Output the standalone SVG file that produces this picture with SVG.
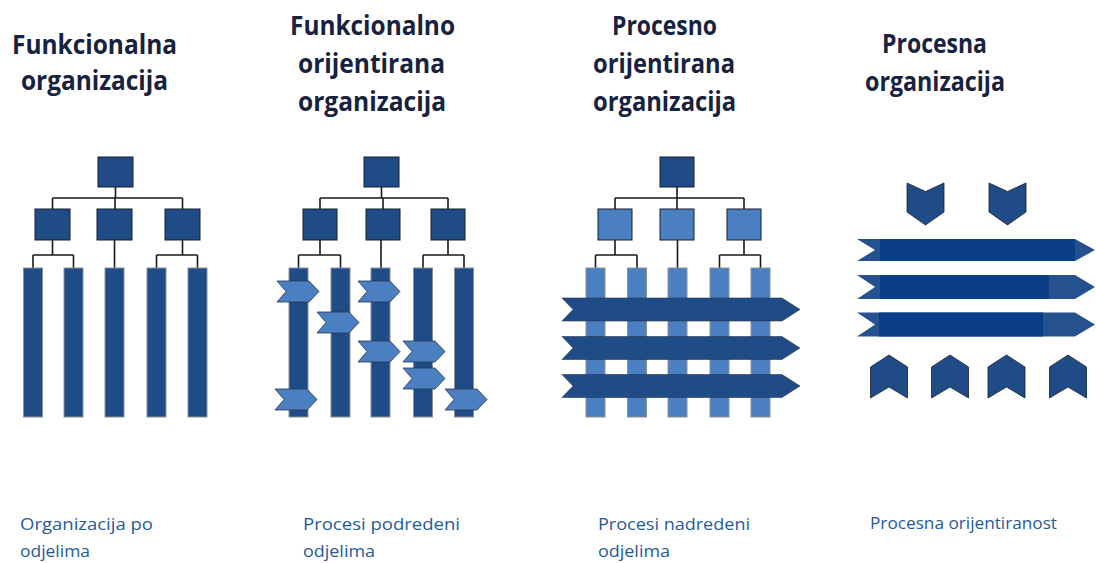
<svg xmlns="http://www.w3.org/2000/svg" width="1096" height="563" viewBox="0 0 1096 563">
<defs>
<style>
.title{font-family:"Open Sans","Liberation Sans",sans-serif;font-weight:700;font-size:26px;fill:#17223f;text-anchor:middle}
.cap{font-family:"Open Sans","Liberation Sans",sans-serif;font-size:17px;fill:#1f5a9e}
.box{fill:#1f4b87;stroke:#1a1f2e;stroke-width:1}
.lbox{fill:#4a7fc1;stroke:#1a1f2e;stroke-width:1}
.col{fill:#1f4b87;stroke:#8a8f99;stroke-width:1}
.lcol{fill:#4a7fc1;stroke:#8a8f99;stroke-width:1}
.chev{fill:#4a7fc1;stroke:#2a3550;stroke-width:0.8}
.arr{fill:#1f4b87;stroke:#2a3550;stroke-width:0.6}
.dchev{fill:#1f4b87;stroke:#1a1f2e;stroke-width:0.8}
.bar{fill:#25528f}
.barin{fill:#093e87}
.conn{fill:none;stroke:#1a1a1a;stroke-width:1.6}
</style>
<path id="chv" d="M0,0 H32 L42,10.5 L32,21 H0 L9,10.5 Z"/>
<path id="dwn" d="M0,0 L18.5,8.5 L37,0 V29 L18.5,42 L0,29 Z"/>
<path id="up" d="M0,12 L18.5,0 L37,12 V43 L18.5,32 L0,43 Z"/>
</defs>
<rect width="1096" height="563" fill="#ffffff"/>

<!-- Titles -->
<g id="title1">
<text class="title" x="94.5" y="54" textLength="165" lengthAdjust="spacingAndGlyphs">Funkcionalna</text>
<text class="title" x="94.5" y="90" textLength="147" lengthAdjust="spacingAndGlyphs">organizacija</text>
</g>
<g id="title2">
<text class="title" x="372.5" y="35" textLength="165" lengthAdjust="spacingAndGlyphs">Funkcionalno</text>
<text class="title" x="371.5" y="73" textLength="147" lengthAdjust="spacingAndGlyphs">orijentirana</text>
<text class="title" x="372" y="111" textLength="148" lengthAdjust="spacingAndGlyphs">organizacija</text>
</g>
<g id="title3">
<text class="title" x="664.5" y="35" textLength="105" lengthAdjust="spacingAndGlyphs">Procesno</text>
<text class="title" x="664" y="73" textLength="142" lengthAdjust="spacingAndGlyphs">orijentirana</text>
<text class="title" x="664.5" y="111" textLength="143" lengthAdjust="spacingAndGlyphs">organizacija</text>
</g>
<g id="title4">
<text class="title" x="934.5" y="53" textLength="105" lengthAdjust="spacingAndGlyphs">Procesna</text>
<text class="title" x="935" y="91" textLength="140" lengthAdjust="spacingAndGlyphs">organizacija</text>
</g>

<!-- Connectors -->
<g id="connectors" class="conn">
<path d="M115.5,187 V198 M52.5,198 H182.5 M52.5,198 V209 M115,198 V209 M182.5,198 V209"/>
<path d="M52.5,240 V255 M33,255 H73.5 M33,255 V268 M73.5,255 V268 M114.5,240 V268 M182.5,240 V255 M156.5,255 H197.5 M156.5,255 V268 M197.5,255 V268"/>
<path d="M381.5,187 V198 M320,198 H448 M320,198 V209 M383,198 V209 M448,198 V209"/>
<path d="M320,240 V255 M298.5,255 H340.5 M298.5,255 V268 M340.5,255 V268 M381,240 V268 M448,240 V255 M423,255 H464 M423,255 V268 M464,255 V268"/>
<path d="M677,187 V198 M615,198 H744 M615,198 V209 M677,198 V209 M744,198 V209"/>
<path d="M615,240 V255 M595.5,255 H637 M595.5,255 V268 M637,255 V268 M677.5,240 V268 M744,240 V255 M719.5,255 H760.5 M719.5,255 V268 M760.5,255 V268"/>
</g>

<!-- Panel 1 -->
<g id="p1-top"><rect class="box" x="98" y="157" width="35" height="30"/></g>
<g id="p1-dept1"><rect class="box" x="35" y="209" width="35" height="31"/></g>
<g id="p1-dept2"><rect class="box" x="97" y="209" width="35" height="31"/></g>
<g id="p1-dept3"><rect class="box" x="165" y="209" width="35" height="31"/></g>
<g id="p1-cols">
<rect class="col" x="23.5" y="268" width="19" height="149"/>
<rect class="col" x="64" y="268" width="19" height="149"/>
<rect class="col" x="105" y="268" width="19" height="149"/>
<rect class="col" x="147" y="268" width="19" height="149"/>
<rect class="col" x="188" y="268" width="19" height="149"/>
</g>

<!-- Panel 2 -->
<g id="p2-top"><rect class="box" x="364" y="157" width="35" height="30"/></g>
<g id="p2-dept1"><rect class="box" x="303" y="209" width="34" height="31"/></g>
<g id="p2-dept2"><rect class="box" x="366" y="209" width="34" height="31"/></g>
<g id="p2-dept3"><rect class="box" x="431" y="209" width="34" height="31"/></g>
<g id="p2-cols">
<rect class="col" x="289" y="268" width="19" height="149"/>
<rect class="col" x="331" y="268" width="19" height="149"/>
<rect class="col" x="371" y="268" width="19" height="149"/>
<rect class="col" x="413.5" y="268" width="19" height="149"/>
<rect class="col" x="454.5" y="268" width="19" height="149"/>
</g>
<g id="p2-processes">
<use href="#chv" class="chev" x="277" y="281"/>
<use href="#chv" class="chev" x="317" y="312"/>
<use href="#chv" class="chev" x="358" y="281"/>
<use href="#chv" class="chev" x="358" y="341"/>
<use href="#chv" class="chev" x="403" y="341"/>
<use href="#chv" class="chev" x="403" y="368"/>
<use href="#chv" class="chev" x="275" y="389"/>
<use href="#chv" class="chev" x="445" y="389"/>
</g>

<!-- Panel 3 -->
<g id="p3-top"><rect class="box" x="660" y="157" width="34" height="30"/></g>
<g id="p3-dept1"><rect class="lbox" x="598" y="209" width="34" height="31"/></g>
<g id="p3-dept2"><rect class="lbox" x="660" y="209" width="34" height="31"/></g>
<g id="p3-dept3"><rect class="lbox" x="727" y="209" width="34" height="31"/></g>
<g id="p3-cols">
<rect class="lcol" x="586" y="268" width="19" height="149"/>
<rect class="lcol" x="627.5" y="268" width="19" height="149"/>
<rect class="lcol" x="668" y="268" width="19" height="149"/>
<rect class="lcol" x="710" y="268" width="19" height="149"/>
<rect class="lcol" x="751" y="268" width="19" height="149"/>
</g>
<g id="p3-processes">
<path class="arr" d="M562,298 H782 L800,309.5 L782,321 H562 L573,309.5 Z"/>
<path class="arr" d="M562,336.5 H782 L800,348 L782,359.5 H562 L573,348 Z"/>
<path class="arr" d="M562,374.5 H782 L800,386 L782,397.5 H562 L573,386 Z"/>
</g>

<!-- Panel 4 -->
<g id="p4-top">
<use href="#dwn" class="dchev" x="907" y="183"/>
<use href="#dwn" class="dchev" x="989" y="183"/>
</g>
<g id="p4-process1">
<path class="bar" d="M857,239 H1075 L1095,250 L1075,261 H857 L875,250 Z"/>
<rect class="barin" x="880" y="239" width="195" height="22"/>
</g>
<g id="p4-process2">
<path class="bar" d="M857,275 H1075 L1095,287 L1075,299 H857 L875,287 Z"/>
<rect class="barin" x="880" y="275" width="169" height="24"/>
</g>
<g id="p4-process3">
<path class="bar" d="M857,312.5 H1075 L1095,324.5 L1075,336.5 H857 L875,324.5 Z"/>
<rect class="barin" x="879" y="312.5" width="164" height="24"/>
</g>
<g id="p4-bottom">
<use href="#up" class="dchev" x="870.5" y="355"/>
<use href="#up" class="dchev" x="931.5" y="355"/>
<use href="#up" class="dchev" x="988" y="355"/>
<use href="#up" class="dchev" x="1049.5" y="355"/>
</g>

<!-- Captions -->
<g id="caption1">
<text class="cap" x="20" y="530" textLength="133" lengthAdjust="spacingAndGlyphs">Organizacija po</text>
<text class="cap" x="20" y="557" textLength="70" lengthAdjust="spacingAndGlyphs">odjelima</text>
</g>
<g id="caption2">
<text class="cap" x="303" y="530" textLength="157" lengthAdjust="spacingAndGlyphs">Procesi podredeni</text>
<text class="cap" x="303" y="557" textLength="72" lengthAdjust="spacingAndGlyphs">odjelima</text>
</g>
<g id="caption3">
<text class="cap" x="598" y="530" textLength="152" lengthAdjust="spacingAndGlyphs">Procesi nadredeni</text>
<text class="cap" x="598" y="557" textLength="72" lengthAdjust="spacingAndGlyphs">odjelima</text>
</g>
<g id="caption4">
<text class="cap" x="870" y="529" textLength="187" lengthAdjust="spacingAndGlyphs">Procesna orijentiranost</text>
</g>
</svg>
